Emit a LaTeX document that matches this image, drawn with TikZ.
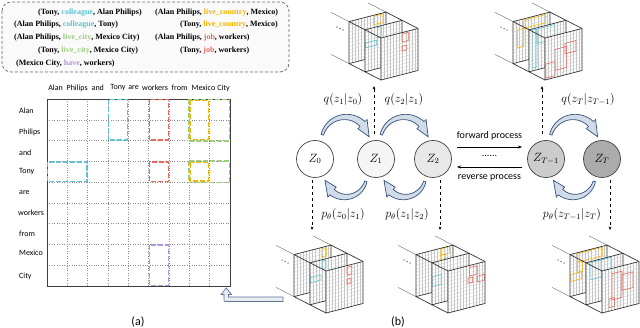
\documentclass[tikz,border=0pt]{standalone}
\usepackage{fontspec}
\setmainfont{Carlito}
\newfontfamily\boxfont{Liberation Serif}
\usetikzlibrary{arrows.meta}
\definecolor{ccyan}{HTML}{5EC2D2}
\definecolor{cgreen}{HTML}{9CCD7E}
\definecolor{cyell}{HTML}{F4B400}
\definecolor{cred}{HTML}{E9685E}
\definecolor{cpurp}{HTML}{B096D8}
\definecolor{navy}{HTML}{34507C}
\definecolor{afill}{HTML}{D2DBE8}
\definecolor{hfill}{HTML}{E9EEF5}
\definecolor{hdraw}{HTML}{5D7394}
\tikzset{
 txt/.style={font=\boxfont\bfseries\fontsize{8}{9}\selectfont, inner sep=0pt, anchor=west},
 lab/.style={font=\fontsize{8}{10}\selectfont, inner sep=0pt},
 gline/.style={draw=black!45, dotted, line width=0.45},
 cbox/.style={dash pattern=on 5pt off 2pt, line width=1.3},
 zc/.style={circle, draw=black!75, line width=0.7, minimum size=37pt, inner sep=0pt, font=\fontsize{12}{14}\selectfont},
 rail/.style={draw=black!55, line width=0.45},
 pedge/.style={draw=black!80, line width=0.7},
 pgrid/.style={draw=black!22, line width=0.25},
 prc/.style={line width=0.6},
 carrow/.style={draw=navy, fill=afill, line width=0.7},
 dar/.style={dashed, line width=0.5, -{Stealth[length=3.5pt,width=2.8pt]}},
 mlab/.style={font=\fontsize{12}{14}\selectfont, inner sep=0pt},
 plab/.style={font=\fontsize{10}{12}\selectfont, inner sep=0pt},
}
% curved fat arrow: cx, cy, R, start angle, head base angle, tip angle
\newcommand\carr[6]{%
 \filldraw[carrow] plot[domain=#4:#5,samples=30] ({#1+(#3+1.2+2.3*((#4)-(\x))/((#4)-(#5)))*cos(\x)},{#2-(#3+1.2+2.3*((#4)-(\x))/((#4)-(#5)))*sin(\x)})
 -- ({#1+(#3+6.5)*cos(#5)},{#2-(#3+6.5)*sin(#5)})
 -- ({#1+(#3)*cos(#6)},{#2-(#3)*sin(#6)})
 -- ({#1+(#3-6.5)*cos(#5)},{#2-(#3-6.5)*sin(#5)})
 -- plot[domain=#5:#4,samples=30] ({#1+(#3-1.2-2.3*((#4)-(\x))/((#4)-(#5)))*cos(\x)},{#2-(#3-1.2-2.3*((#4)-(\x))/((#4)-(#5)))*sin(\x)})
 -- cycle;}
\newcommand\panelk[2]{%
 \begin{scope}[shift={({#1*16},{#1*8.2})}]
 \begin{scope}[x=1pt,y=1pt,cm={3.0833,0.7917,0,3.5,(0,0)}]
   \fill[white] (0,0) rectangle (12,12);
   \foreach \k in {1,...,11} {\draw[pgrid] (\k,0) -- (\k,12); \draw[pgrid] (0,\k) -- (12,\k);}
   #2
   \draw[pedge] (0,0) rectangle (12,12);
 \end{scope}\end{scope}}
\newcommand\mystack[5]{%
 \begin{scope}[shift={(#1,#2)}]
  \draw[rail] (-18,-9.2) -- (0,0);
  \draw[rail] (-18,-51.2) -- (0,-42);
  \draw[rail] (19,-60.7) -- (37,-51.5);
  \panelk{0}{#3}
  \draw[pedge] (0,0) -- (16,8.2) (0,-42) -- (16,-33.8) (37,-51.5) -- (53,-43.3) (37,-9.5) -- (53,-1.3);
  \panelk{1}{#4}
  \draw[pedge] (16,8.2) -- (32,16.4) (16,-33.8) -- (32,-25.6) (53,-43.3) -- (69,-35.1) (53,-1.3) -- (69,6.9);
  \panelk{2}{#5}
  \fill (-12,-36.5) circle (0.6) (-9,-35) circle (0.6) (-6,-33.5) circle (0.6);
 \end{scope}}
\begin{document}
\begin{tikzpicture}[x=1pt,y=-1pt]
\useasboundingbox (0,0) rectangle (640,328);
% ---------- (a) triples box
\draw[dash pattern=on 3pt off 2pt, line width=0.7, draw=black!60, fill=black!2, rounded corners=9] (2,2) rectangle (289,72);
\node[txt] (t1) at (38,12.5) {(Tony, \textcolor{ccyan}{colleague}, Alan Philips)};
\node[txt] (t2) at (14,25) {(Alan Philips, \textcolor{ccyan}{colleague}, Tony)};
\node[txt] (t3) at (14,38) {(Alan Philips, \textcolor{cgreen}{live\_city}, Mexico City)};
\node[txt] (t4) at (38,51) {(Tony, \textcolor{cgreen}{live\_city}, Mexico City)};
\node[txt] (t5) at (16,63.5) {(Mexico City, \textcolor{cpurp}{have}, workers)};
\node[txt] (t6) at (155,12.5) {(Alan Philips, \textcolor{cyell}{live\_country}, Mexico)};
\node[txt] (t7) at (180,25) {(Tony, \textcolor{cyell}{live\_country}, Mexico)};
\node[txt] (t8) at (155,38) {(Alan Philips, \textcolor{cred}{job}, workers)};
\node[txt] (t9) at (180,51) {(Tony, \textcolor{cred}{job}, workers)};
% ---------- (a) grid
\begin{scope}[shift={(47,99)}, x=20.333pt, y=-20.778pt]
 \foreach \k in {1,...,8} {\draw[gline] (\k,0) -- (\k,9); \draw[gline] (0,\k) -- (9,\k);}
 \draw[line width=0.9, draw=black!75] (0,0) rectangle (9,9);
 \draw[cbox, draw=ccyan] (3.03,0.03) rectangle (3.97,1.97);
 \draw[cbox, draw=ccyan] (0.03,3.03) rectangle (1.97,3.97);
 \draw[cbox, draw=cred] (5.03,0.03) rectangle (5.97,1.97);
 \draw[cbox, draw=cred] (5.03,3.03) rectangle (5.97,3.97);
 \draw[cbox, draw=cgreen] (6.98,0.02) rectangle (8.98,2.02);
 \draw[cbox, draw=cgreen] (6.98,2.98) rectangle (8.98,4.02);
 \draw[cbox, draw=cyell] (7.05,0.06) rectangle (7.95,1.94);
 \draw[cbox, draw=cyell] (7.05,3.06) rectangle (7.95,3.94);
 \draw[cbox, draw=cpurp] (5.03,7.03) rectangle (5.97,8.97);
\end{scope}
\node[lab] (h1) at (55.6,88) {Alan};
\node[lab] (h2) at (77.2,88) {Philips};
\node[lab] (h3) at (97.8,88) {and};
\node[lab] (h4) at (118,88) {Tony};
\node[lab] (h5) at (133.6,88) {are};
\node[lab] (h6) at (155,88) {workers};
\node[lab] (h7) at (179.6,88) {from};
\node[lab] (h8) at (203.5,88) {Mexico};
\node[lab] (h9) at (223.5,88) {City};
\node[lab, anchor=west] (r1) at (19,111) {Alan};
\node[lab, anchor=west] (r2) at (19,132) {Philips};
\node[lab, anchor=west] (r3) at (19,153) {and};
\node[lab, anchor=west] (r4) at (19,172) {Tony};
\node[lab, anchor=west] (r5) at (19,193) {are};
\node[lab, anchor=west] (r6) at (18,213) {workers};
\node[lab, anchor=west] (r7) at (19,234) {from};
\node[lab, anchor=west] (r8) at (19,253) {Mexico};
\node[lab, anchor=west] (r9) at (19,276) {City};
\node[font=\fontsize{12}{14}\selectfont, inner sep=0pt] (la) at (138,322) {(a)};
% hollow return arrow
\filldraw[fill=hfill, draw=hdraw, line width=0.7] (283,297) -- (228.5,297) -- (228.5,294.5) -- (231.5,294.5) -- (226.25,288) -- (221,294.5) -- (224,294.5) -- (224,299.5) .. controls (224,301.5) .. (226,301.5) -- (283,301.5) -- cycle;
% ---------- (b) stacks
\mystack{349}{63.6}{\draw[prc,cyell] (8,9.3) rectangle (11,11.7);}
 {\draw[prc,ccyan] (4,8.8) rectangle (5.3,11.7); \draw[prc,ccyan] (0.2,6.8) rectangle (3.8,8.2);}
 {\draw[prc,cred] (6.8,9.3) rectangle (8.9,11.6); \draw[prc,cred] (6.8,6.7) rectangle (8.2,8.1);}
\mystack{513}{63.6}{\draw[prc,cyell] (3.5,9.3) rectangle (10.5,11.6); \draw[prc,cyell] (1.5,4.2) rectangle (3.5,9.3);}
 {\draw[prc,ccyan] (1,0.8) rectangle (2.6,11.6); \draw[prc,ccyan] (2.6,7.5) rectangle (8.4,11.6);}
 {\draw[prc,cred] (0.3,0.5) rectangle (3.3,4.5); \draw[prc,cred] (3.3,2) rectangle (7,8); \draw[prc,cred] (6.5,6) rectangle (10,9);}
\mystack{294}{296.6}{\draw[prc,cyell] (8.8,9.3) rectangle (10.5,11.6);}
 {\draw[prc,ccyan] (3.9,9.4) rectangle (5.2,11.6); \draw[prc,ccyan] (0.2,6.3) rectangle (3.6,7.7);}
 {\draw[prc,cred] (6.8,9.3) rectangle (8.4,11.5); \draw[prc,cred] (6.8,6.7) rectangle (8.1,8.1);}
\mystack{416}{296.6}{\draw[prc,cyell] (8,10) rectangle (10.8,11.8); \draw[prc,cyell] (8,8) rectangle (9.5,10);}
 {\draw[prc,ccyan] (0.3,5.2) rectangle (3,8);}
 {\draw[prc,cred] (7,9) rectangle (9.5,11.4); \draw[prc,cred] (6.5,7) rectangle (8,8.5); \draw[prc,cred] (9.5,6.7) rectangle (11.8,8.4);}
\mystack{570}{296.6}{\draw[prc,cyell] (2.5,9.3) rectangle (10.5,11.7); \draw[prc,cyell] (2.5,6.3) rectangle (4,9.3); \draw[prc,cyell] (0.3,4.3) rectangle (3.8,6.3);}
 {\draw[prc,ccyan] (1.6,6.8) rectangle (4.9,11.7); \draw[prc,ccyan] (4.9,8.5) rectangle (8.1,11.7);}
 {\draw[prc,cred] (3.3,3) rectangle (6.5,10.5); \draw[prc,cred] (6.5,5) rectangle (10,9.5); \draw[prc,cred] (2.3,1) rectangle (4,3.5);}
% ---------- (b) chain
\node[zc, fill=white] (z0) at (315,159) {$Z_0$};
\node[zc, fill=black!4] (z1) at (376,159) {$Z_1$};
\node[zc, fill=black!9] (z2) at (433,159) {$Z_2$};
\node[zc, fill=black!20] (zt1) at (546,159) {$Z_{T-1}$};
\node[zc, fill=black!33] (zt) at (602,159) {$Z_T$};
\carr{345.5}{141}{24}{165}{45}{10}
\carr{404.5}{141}{24}{165}{45}{10}
\carr{574}{141}{24}{165}{45}{10}
\carr{345.5}{176}{21}{-15}{-130}{-168}
\carr{404.5}{176}{21}{-15}{-130}{-168}
\carr{574}{176}{21}{-15}{-130}{-168}
\coordinate (f1) at (457,147); \coordinate (f2) at (522,147);
\coordinate (b1) at (522,167); \coordinate (b2) at (457,167);
\draw[line width=0.5, -{Stealth[length=4pt,width=3pt]}] (f1) -- (f2);
\draw[line width=0.5, -{Stealth[length=4pt,width=3pt]}] (b1) -- (b2);
\node[plab] (fw) at (489.5,136) {forward process};
\node[plab] (rv) at (489.5,178) {reverse process};
\node[plab] (dots) at (489.5,156) {......};
% dashed arrows
\coordinate (u1a) at (374,134); \coordinate (u1b) at (374,86);
\coordinate (u2a) at (542,134); \coordinate (u2b) at (542,86);
\coordinate (d1a) at (312,180); \coordinate (d1b) at (312,230);
\coordinate (d2a) at (440,180); \coordinate (d2b) at (440,230);
\coordinate (d3a) at (610,180); \coordinate (d3b) at (610,230);
\draw[dar] (u1a) -- (u1b);
\draw[dar] (u2a) -- (u2b);
\draw[dar] (d1a) -- (d1b);
\draw[dar] (d2a) -- (d2b);
\draw[dar] (d3a) -- (d3b);
\node[mlab] (q1) at (343,100) {$q(z_1|z_0)$};
\node[mlab] (q2) at (404,100) {$q(z_2|z_1)$};
\node[mlab] (q3) at (588,100) {$q(z_T|z_{T-1})$};
\node[mlab] (p1) at (343,215) {$p_\theta(z_0|z_1)$};
\node[mlab] (p2) at (407,215) {$p_\theta(z_1|z_2)$};
\node[mlab] (p3) at (572,215) {$p_\theta(z_{T-1}|z_T)$};
\node[font=\fontsize{12}{14}\selectfont, inner sep=0pt] (lb) at (398,322) {(b)};
\end{tikzpicture}
\end{document}
